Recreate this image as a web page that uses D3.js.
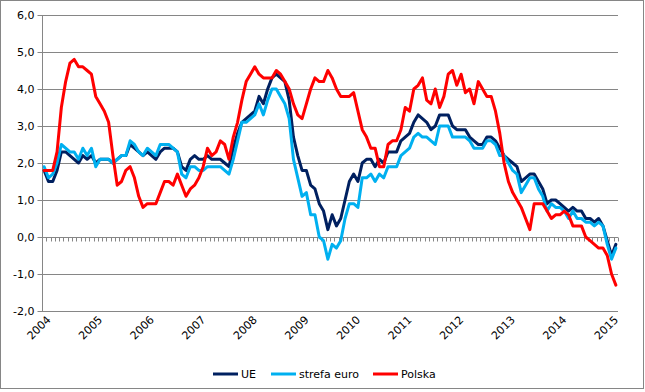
<!DOCTYPE html>
<html>
<head>
<meta charset="utf-8">
<script src="https://cdn.jsdelivr.net/npm/d3@7"></script>
<style>
  body { margin: 0; background: #fff; }
  text { font-family: "DejaVu Sans", Verdana, sans-serif; font-size: 11px; fill: #000; }
</style>
</head>
<body>
<div class="canvas"></div>
<script>
// monthly HICP rates, Jan 2004 - Feb 2015
const years = ["2004", "2005", "2006", "2007", "2008", "2009", "2010", "2011", "2012", "2013", "2014", "2015"];
const months = d3.timeMonth.range(new Date(2004, 0, 1), new Date(2015, 2, 1));
const yTicks = [-2, -1, 0, 1, 2, 3, 4, 5, 6];

const ue = [
  1.8, 1.5, 1.5, 1.8, 2.3, 2.3, 2.2, 2.1, 2.0, 2.2, 2.1, 2.2,
  2.0, 2.1, 2.1, 2.1, 2.0, 2.1, 2.2, 2.2, 2.5, 2.4, 2.3, 2.2,
  2.3, 2.2, 2.1, 2.3, 2.4, 2.4, 2.4, 2.3, 1.9, 1.8, 2.1, 2.2,
  2.1, 2.1, 2.2, 2.1, 2.1, 2.1, 2.0, 1.9, 2.4, 2.8, 3.1, 3.2,
  3.3, 3.4, 3.8, 3.6, 4.0, 4.3, 4.4, 4.3, 4.2, 3.7, 2.7, 2.2,
  1.8, 1.8, 1.4, 1.3, 0.9, 0.7, 0.2, 0.6, 0.3, 0.5, 1.0, 1.5,
  1.7, 1.5, 2.0, 2.1, 2.1, 1.9, 2.1, 2.0, 2.3, 2.3, 2.3, 2.6,
  2.7, 2.8, 3.1, 3.3, 3.2, 3.1, 2.9, 3.0, 3.3, 3.3, 3.3, 3.0,
  2.9, 2.9, 2.9, 2.7, 2.6, 2.5, 2.5, 2.7, 2.7, 2.6, 2.4, 2.2,
  2.1, 2.0, 1.9, 1.5, 1.6, 1.7, 1.7, 1.5, 1.3, 0.9, 1.0, 1.0,
  0.9, 0.8, 0.7, 0.8, 0.7, 0.7, 0.5, 0.5, 0.4, 0.5, 0.3, -0.1,
  -0.5, -0.2
];

const strefaEuro = [
  1.9, 1.6, 1.7, 2.0, 2.5, 2.4, 2.3, 2.3, 2.1, 2.4, 2.2, 2.4,
  1.9, 2.1, 2.1, 2.1, 2.0, 2.1, 2.2, 2.2, 2.6, 2.5, 2.3, 2.2,
  2.4, 2.3, 2.2, 2.5, 2.5, 2.5, 2.4, 2.3, 1.7, 1.6, 1.9, 1.9,
  1.8, 1.8, 1.9, 1.9, 1.9, 1.9, 1.8, 1.7, 2.1, 2.6, 3.1, 3.1,
  3.2, 3.3, 3.6, 3.3, 3.7, 4.0, 4.0, 3.8, 3.6, 3.2, 2.1, 1.6,
  1.1, 1.2, 0.6, 0.6, 0.0, -0.1, -0.6, -0.2, -0.3, -0.1, 0.5, 0.9,
  0.9, 0.8, 1.6, 1.6, 1.7, 1.5, 1.7, 1.6, 1.9, 1.9, 1.9, 2.2,
  2.3, 2.4, 2.7, 2.8, 2.7, 2.7, 2.6, 2.5, 3.0, 3.0, 3.0, 2.7,
  2.7, 2.7, 2.7, 2.6, 2.4, 2.4, 2.4, 2.6, 2.6, 2.5, 2.2, 2.2,
  2.0, 1.8, 1.7, 1.2, 1.4, 1.6, 1.6, 1.3, 1.1, 0.7, 0.9, 0.8,
  0.8, 0.7, 0.5, 0.7, 0.5, 0.5, 0.4, 0.4, 0.3, 0.4, 0.3, -0.2,
  -0.6, -0.3
];

const polska = [
  1.8, 1.8, 1.8, 2.3, 3.5, 4.2, 4.7, 4.8, 4.6, 4.6, 4.5, 4.4,
  3.8, 3.6, 3.4, 3.1, 2.2, 1.4, 1.5, 1.8, 1.9, 1.6, 1.1, 0.8,
  0.9, 0.9, 0.9, 1.2, 1.5, 1.5, 1.4, 1.7, 1.4, 1.1, 1.3, 1.4,
  1.6, 1.9, 2.4, 2.2, 2.3, 2.6, 2.5, 2.1, 2.7, 3.1, 3.7, 4.2,
  4.4, 4.6, 4.4, 4.3, 4.3, 4.3, 4.5, 4.4, 4.2, 4.0, 3.6, 3.3,
  3.2, 3.6, 4.0, 4.3, 4.2, 4.2, 4.5, 4.3, 4.0, 3.8, 3.8, 3.8,
  3.9, 3.4, 2.9, 2.7, 2.4, 2.4, 1.9, 1.9, 2.5, 2.6, 2.6, 2.9,
  3.5, 3.4, 4.0, 4.1, 4.3, 3.7, 3.6, 4.0, 3.5, 3.8, 4.4, 4.5,
  4.1, 4.4, 3.9, 4.0, 3.6, 4.2, 4.0, 3.8, 3.8, 3.4, 2.8, 2.0,
  1.5, 1.2, 1.0, 0.8, 0.5, 0.2, 0.9, 0.9, 0.9, 0.7, 0.5, 0.6,
  0.6, 0.7, 0.6, 0.3, 0.3, 0.3, 0.0, -0.1, -0.2, -0.3, -0.3, -0.5,
  -1.0, -1.3
];

const series = [
  { name: "UE", values: ue, color: "#002060" },
  { name: "strefa euro", values: strefaEuro, color: "#00b0f0" },
  { name: "Polska", values: polska, color: "#ff0000" }
];

// margins and dimensions
const w = 645;
const h = 392;
const margin = { top: 15, right: 27, bottom: 81, left: 42 };

const svg = d3.select(".canvas").append("svg").attr("width", w).attr("height", h);

// chart border
svg.append("rect")
  .attr("x", 0.5).attr("y", 0.5)
  .attr("width", w - 2).attr("height", h - 4)
  .attr("fill", "#fff")
  .attr("stroke", "#868686");

// scales
const xScale = d3.scaleBand().domain(d3.range(months.length)).range([margin.left, w - margin.right]);
const yScale = d3.scaleLinear().domain([-2, 6]).range([h - margin.bottom, margin.top]);
const xMid = (i) => xScale(i) + xScale.bandwidth() / 2;

// gridlines
svg.append("g")
  .selectAll("line")
  .data(yTicks)
  .join("line")
  .attr("x1", margin.left)
  .attr("x2", w - margin.right)
  .attr("y1", (d) => Math.round(yScale(d)) + 0.5)
  .attr("y2", (d) => Math.round(yScale(d)) + 0.5)
  .attr("stroke", "#868686");

// y axis
const yAxis = d3.axisLeft(yScale)
  .tickValues(yTicks)
  .tickFormat((d) => d3.format(".1f")(d).replace(".", ",").replace("−", "-"))
  .tickSize(5)
  .tickPadding(3);
const yG = svg.append("g").attr("transform", `translate(${margin.left + 0.5}, 0.5)`).call(yAxis);
yG.selectAll("line, path").attr("stroke", "#868686");
yG.select(".domain").attr("d", `M0,${Math.round(yScale(6))}V${Math.round(yScale(-2))}`);
yG.selectAll("text").attr("font-size", 11).attr("font-family", "DejaVu Sans").attr("fill", "#000");
yG.selectAll(".tick").attr("transform", (d) => `translate(0, ${Math.round(yScale(d))})`);

// x axis at zero with monthly ticks
const y0 = Math.round(yScale(0)) + 0.5;
const tickPos = months.map((d, i) => xScale(i)).concat([w - margin.right]);
svg.append("g")
  .selectAll("line")
  .data(tickPos)
  .join("line")
  .attr("x1", (d) => Math.round(d) + 0.5)
  .attr("x2", (d) => Math.round(d) + 0.5)
  .attr("y1", y0)
  .attr("y2", y0 + 4)
  .attr("stroke", "#868686");

// year labels, rotated
svg.append("g")
  .selectAll("text")
  .data(years)
  .join("text")
  .attr("transform", (d, i) => `translate(${xScale(i * 12) + 4}, ${h - margin.bottom + 4}) rotate(-45)`)
  .attr("text-anchor", "end")
  .attr("dy", "0.7em")
  .text((d) => d);

// lines
const line = d3.line()
  .x((d, i) => xMid(i))
  .y((d) => yScale(d));

svg.append("g")
  .selectAll("path")
  .data(series)
  .join("path")
  .attr("d", (s) => line(s.values))
  .attr("fill", "none")
  .attr("stroke", (s) => s.color)
  .attr("stroke-width", 3)
  .attr("stroke-linejoin", "round")
  .attr("stroke-linecap", "round");

// legend
const legendX = [213, 271, 373];
const legend = svg.append("g").attr("transform", "translate(0, 374)");
legend.selectAll("line")
  .data(series)
  .join("line")
  .attr("x1", (s, i) => legendX[i])
  .attr("x2", (s, i) => legendX[i] + 25)
  .attr("y1", 0)
  .attr("y2", 0)
  .attr("stroke", (s) => s.color)
  .attr("stroke-width", 3);
legend.selectAll("text")
  .data(series)
  .join("text")
  .attr("x", (s, i) => legendX[i] + 28)
  .attr("y", 0)
  .attr("dy", "0.35em")
  .text((s) => s.name);
</script>
</body>
</html>
